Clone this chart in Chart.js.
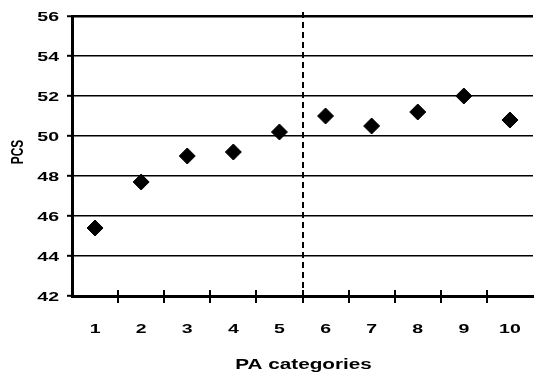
<!DOCTYPE html>
<html>
<head>
<meta charset="utf-8">
<script src="https://cdn.jsdelivr.net/npm/chart.js@4/dist/chart.umd.min.js"></script>
<style>
  html, body { margin: 0; padding: 0; background: #fff; }
  #wrap { width: 542px; height: 381px; }
</style>
</head>
<body>
<div id="wrap"><canvas id="c" width="542" height="381"></canvas></div>
<script>
// PCS score by physical-activity category
const categories = ['1', '2', '3', '4', '5', '6', '7', '8', '9', '10'];
const pcsValues = [45.4, 47.7, 49.0, 49.2, 50.2, 51.0, 50.5, 51.2, 52.0, 50.8];
const yTicks = [42, 44, 46, 48, 50, 52, 54, 56];
const xTitle = 'PA categories';
const yTitle = 'PCS';
// dashed separator sits between these two categories
const splitAfter = '5';

const FONT = "'Liberation Sans', Arial, sans-serif";

// draw text widened horizontally (wide-set lettering)
function wideText(ctx, text, x, y, size, stretch, align, rotate) {
  ctx.save();
  ctx.font = 'bold ' + size + 'px ' + FONT;
  ctx.fillStyle = '#000';
  ctx.textAlign = align;
  ctx.textBaseline = 'alphabetic';
  ctx.translate(x, y);
  ctx.scale(stretch, 1);
  if (rotate) ctx.rotate(-Math.PI / 2);
  ctx.fillText(text, 0, 0);
  ctx.restore();
}

// axis labels, titles, crossing x tick marks and the dashed separator
const extras = {
  id: 'extras',
  afterDatasetsDraw(chart) {
    const { ctx, scales: { x, y }, chartArea } = chart;
    ctx.save();
    // tick marks between categories
    ctx.strokeStyle = '#000';
    ctx.lineWidth = 2;
    for (let i = 0; i < categories.length - 1; i++) {
      const px = Math.round((x.getPixelForValue(i) + x.getPixelForValue(i + 1)) / 2);
      ctx.beginPath();
      ctx.moveTo(px, chartArea.bottom - 6);
      ctx.lineTo(px, chartArea.bottom + 7);
      ctx.stroke();
    }
    // dashed separator
    const k = categories.indexOf(splitAfter);
    const sx = Math.round((x.getPixelForValue(k) + x.getPixelForValue(k + 1)) / 2);
    ctx.setLineDash([6, 4]);
    ctx.lineWidth = 2;
    ctx.beginPath();
    ctx.moveTo(sx, y.getPixelForValue(yTicks[yTicks.length - 1]) - 4);
    ctx.lineTo(sx, chartArea.bottom);
    ctx.stroke();
    ctx.restore();

    // y tick labels
    yTicks.forEach(v => {
      wideText(ctx, String(v), chartArea.left - 13, y.getPixelForValue(v) + 5, 13, 1.5, 'right', false);
    });
    // x tick labels
    categories.forEach((c, i) => {
      wideText(ctx, c, x.getPixelForValue(i), chartArea.bottom + 37, 13, 1.5, 'center', false);
    });
    // axis titles
    wideText(ctx, xTitle, (chartArea.left + chartArea.right) / 2 + 1, 369, 15, 1.38, 'center', false);
    wideText(ctx, yTitle, 23, (chartArea.top + chartArea.bottom) / 2 - 4, 12, 1.38, 'center', true);
  }
};

new Chart(document.getElementById('c'), {
  type: 'line',
  data: {
    labels: categories,
    datasets: [{
      data: pcsValues,
      showLine: false,
      pointStyle: 'rectRot',
      pointRadius: 8,
      pointHoverRadius: 8,
      pointBackgroundColor: '#000',
      pointBorderColor: '#000',
      pointBorderWidth: 1
    }]
  },
  options: {
    responsive: false,
    animation: false,
    layout: { padding: { top: 16, right: 0, bottom: 0, left: 0 } },
    plugins: { legend: { display: false }, tooltip: { enabled: false } },
    scales: {
      x: {
        type: 'category',
        offset: true,
        grid: { display: false, drawTicks: false },
        border: { display: true, color: '#000', width: 3 },
        ticks: { display: false },
        afterFit(scale) {
          scale.height = 85;
          scale.paddingLeft = 0;
          scale.paddingRight = 0;
        }
      },
      y: {
        min: yTicks[0],
        max: yTicks[yTicks.length - 1],
        afterBuildTicks(scale) { scale.ticks = yTicks.map(v => ({ value: v })); },
        grid: {
          color: '#000',
          lineWidth: (c) => (c.tick && c.tick.value === yTicks[yTicks.length - 1]) ? 2.5 : 1.6,
          drawTicks: true,
          tickLength: 5,
          tickColor: '#000',
          tickWidth: 2
        },
        border: { display: true, color: '#000', width: 3 },
        ticks: { display: false },
        afterFit(scale) {
          scale.width = 72;
          scale.paddingTop = 0;
          scale.paddingBottom = 0;
        }
      }
    }
  },
  plugins: [extras]
});
</script>
</body>
</html>
